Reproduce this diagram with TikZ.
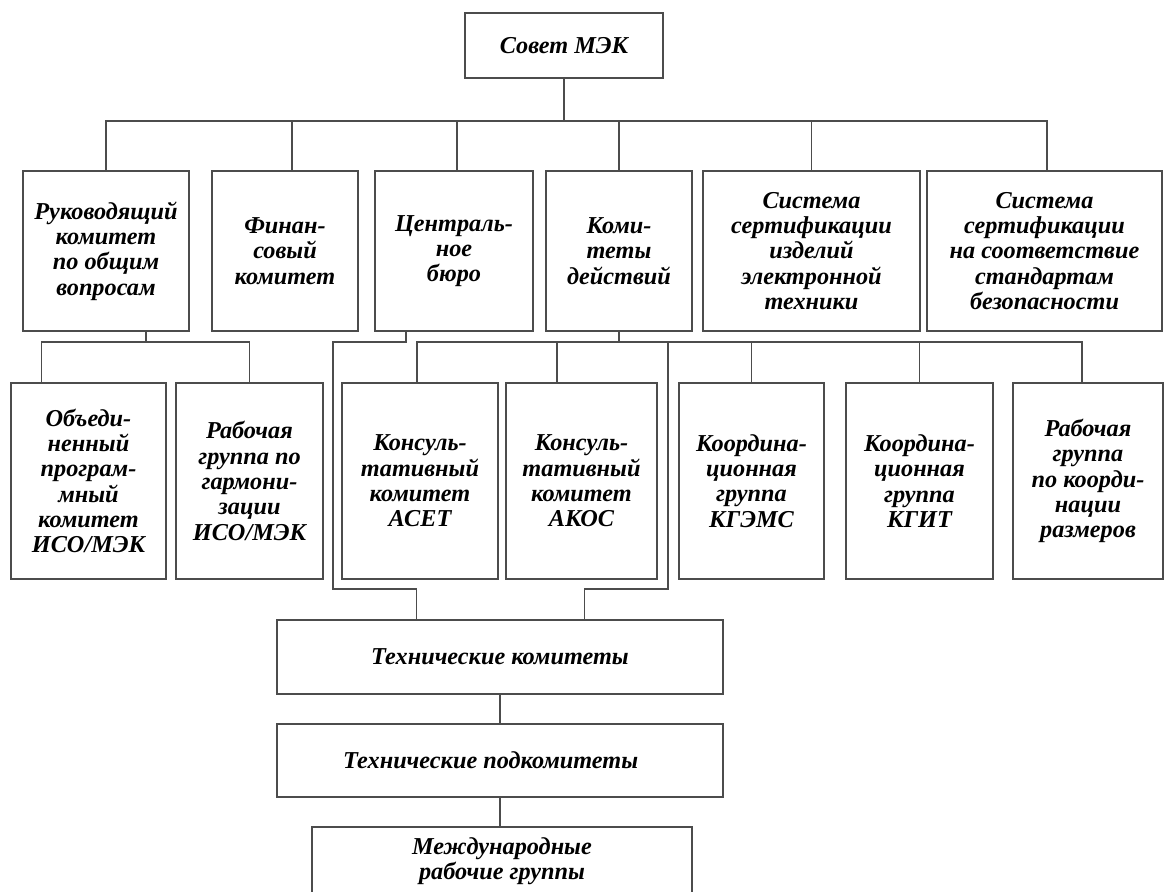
\documentclass[tikz,border=0pt]{standalone}
\usepackage{fontspec}
\setmainfont{Liberation Serif}
\usetikzlibrary{calc}
\newcommand\bx[6]{\node[box, minimum width={(#4-#2)*0.75pt}, minimum height={(#5-#3)*0.75pt}] (#1) at ({(#2+#4)/2},{(#3+#5)/2}) {#6};}
\begin{document}
\begin{tikzpicture}[x=0.75pt,y=-0.75pt,
  box/.style={draw=black!70, line width=0.9pt, inner sep=0pt, align=center,
    font=\bfseries\itshape\fontsize{18.2pt}{19pt}\selectfont},
  conn/.style={draw=black!70, line width=0.9pt}]
\useasboundingbox (0,0) rectangle (1167,892);
% top
\bx{sovet}{465}{13}{663}{78}{Совет МЭК}
% row 1
\bx{b1}{23}{171}{189}{331}{Руководящий\\комитет\\по общим\\вопросам}
\bx{b2}{212}{171}{358}{331}{Финан-\\совый\\комитет}
\bx{b3}{375}{171}{533}{331}{Централь-\\ное\\бюро}
\bx{b4}{546}{171}{692}{331}{Коми-\\теты\\действий}
\bx{b5}{703}{171}{920}{331}{Система\\сертификации\\изделий\\электронной\\техники}
\bx{b6}{927}{171}{1162}{331}{Система\\сертификации\\на соответствие\\стандартам\\безопасности}
% row 2
\bx{r1}{11}{383}{166}{579}{Объеди-\\ненный\\програм-\\мный\\комитет\\ИСО/МЭК}
\bx{r2}{176}{383}{323}{579}{Рабочая\\группа по\\гармони-\\зации\\ИСО/МЭК}
\bx{r3}{342}{383}{498}{579}{Консуль-\\тативный\\комитет\\АСЕТ}
\bx{r4}{506}{383}{657}{579}{Консуль-\\тативный\\комитет\\АКОС}
\bx{r5}{679}{383}{824}{579}{Координа-\\ционная\\группа\\КГЭМС}
\bx{r6}{846}{383}{993}{579}{Координа-\\ционная\\группа\\КГИТ}
\bx{r7}{1013}{383}{1163}{579}{Рабочая\\группа\\по коорди-\\нации\\размеров}
% bottom
\bx{tk}{277}{620}{723}{694}{Технические комитеты}
\bx{tpk}{277}{724}{723}{797}{Технические подкомитеты\hspace{14pt}}
\bx{mrg}{312}{827}{692}{895}{Международные\\рабочие группы}
% connectors: level 1
\coordinate (bus1) at (0,121);
\coordinate (bus2) at (0,342);
\draw[conn] (sovet.south) -- (sovet.south |- bus1);
\coordinate (d2) at ($(b2.north)+(7,0)$);
\coordinate (d3) at ($(b3.north)+(3,0)$);
\coordinate (d6) at ($(b6.north)+(2.5,0)$);
\draw[conn] (b1.north) |- (d6 |- bus1) -- (d6);
\foreach \n in {d2,d3,b4.north,b5.north} \draw[conn] (\n) -- (\n |- bus1);
% under b1
\coordinate (u1) at ($(b1.south)+(40,0)$);
\coordinate (e1) at ($(r1.north west)+(31,0)$);
\draw[conn] (u1) -- (u1 |- bus2);
\draw[conn] (e1) |- (r2.north |- bus2) -- (r2.north);
% under b3 to technical committees
\coordinate (u3) at ($(b3.south)+(-48,0)$);
\coordinate (j3) at (333,589);
\coordinate (tkL) at ($(tk.north west)+(140,0)$);
\draw[conn] (u3) |- (j3 |- bus2) -- (j3) -| (tkL);
% under b4
\draw[conn] (b4.south) -- (b4.south |- bus2);
\coordinate (e3) at ($(r3.north)+(-3,0)$);
\coordinate (e4) at ($(r4.north)+(-24.5,0)$);
\coordinate (e7) at ($(r7.north)+(-6,0)$);
\draw[conn] (e3) |- (e7 |- bus2) -- (e7);
\foreach \n in {e4,r5.north,r6.north} \draw[conn] (\n) -- (\n |- bus2);
\coordinate (j4) at (668,589);
\coordinate (tkR) at ($(tk.north west)+(308,0)$);
\draw[conn] (j4 |- bus2) -- (j4) -| (tkR);
% bottom chain
\draw[conn] (tk.south) -- (tpk.north);
\draw[conn] (tpk.south) -- (tpk.south |- mrg.north);
\end{tikzpicture}
\end{document}
